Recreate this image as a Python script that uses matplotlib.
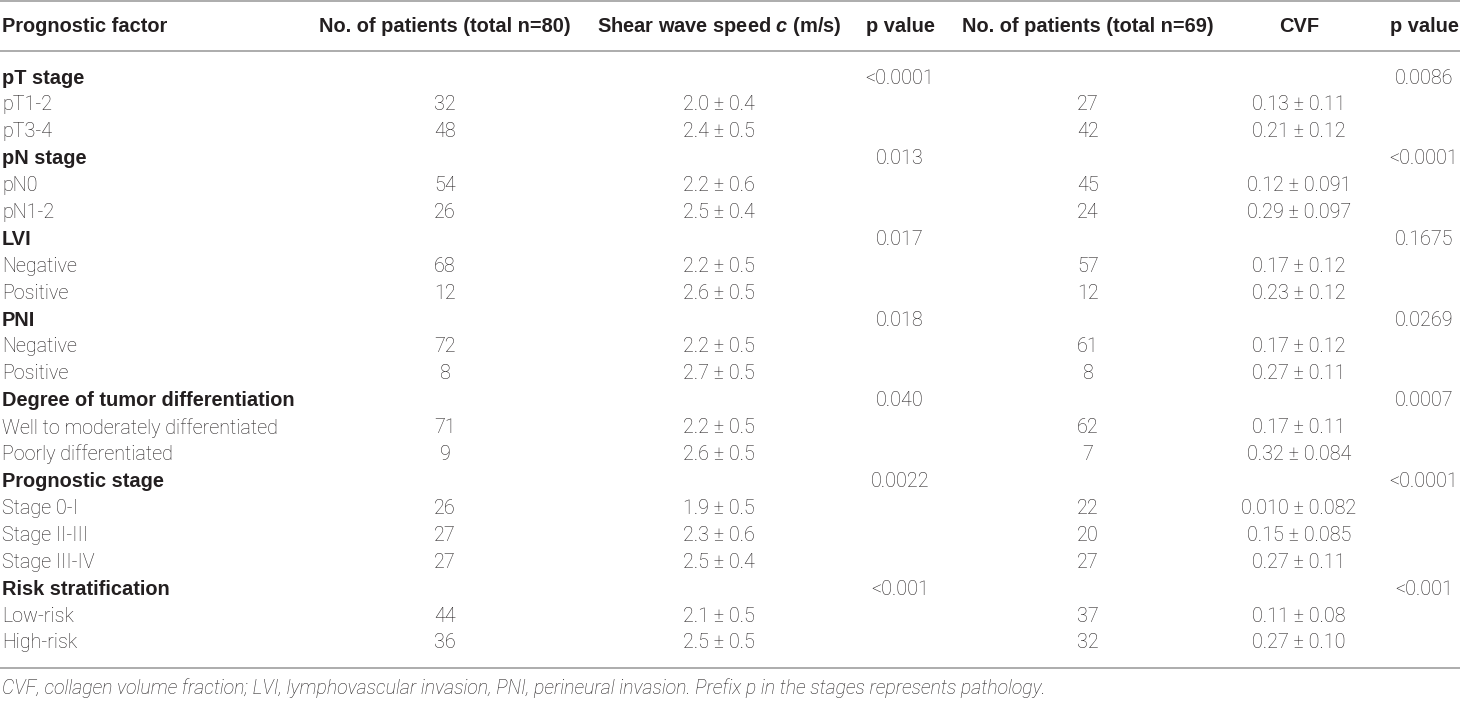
import matplotlib
matplotlib.use("Agg")
import matplotlib.pyplot as plt

plt.rcParams['mathtext.fontset'] = 'custom'
plt.rcParams['mathtext.it'] = 'Liberation Sans:italic:bold'
plt.rcParams['mathtext.rm'] = 'Liberation Sans:bold'

# ---------------- data ----------------
headers = ["Prognostic factor", "No. of patients (total n=80)",
           r"Shear wave speed $c$ (m/s)", "p value",
           "No. of patients (total n=69)", "CVF", "p value"]

groups = ["pT stage", "pN stage", "LVI", "PNI",
          "Degree of tumor differentiation", "Prognostic stage",
          "Risk stratification"]
group_p_swe = ["<0.0001", "0.013", "0.017", "0.018", "0.040", "0.0022", "<0.001"]
group_p_cvf = ["0.0086", "<0.0001", "0.1675", "0.0269", "0.0007", "<0.0001", "<0.001"]

sub_labels = [["pT1-2", "pT3-4"],
              ["pN0", "pN1-2"],
              ["Negative", "Positive"],
              ["Negative", "Positive"],
              ["Well to moderately differentiated", "Poorly differentiated"],
              ["Stage 0-I", "Stage II-III", "Stage III-IV"],
              ["Low-risk", "High-risk"]]
n_swe = [[32, 48], [54, 26], [68, 12], [72, 8], [71, 9], [26, 27, 27], [44, 36]]
swe = [["2.0 ± 0.4", "2.4 ± 0.5"],
       ["2.2 ± 0.6", "2.5 ± 0.4"],
       ["2.2 ± 0.5", "2.6 ± 0.5"],
       ["2.2 ± 0.5", "2.7 ± 0.5"],
       ["2.2 ± 0.5", "2.6 ± 0.5"],
       ["1.9 ± 0.5", "2.3 ± 0.6", "2.5 ± 0.4"],
       ["2.1 ± 0.5", "2.5 ± 0.5"]]
n_cvf = [[27, 42], [45, 24], [57, 12], [61, 8], [62, 7], [22, 20, 27], [37, 32]]
cvf = [["0.13 ± 0.11", "0.21 ± 0.12"],
       ["0.12 ± 0.091", "0.29 ± 0.097"],
       ["0.17 ± 0.12", "0.23 ± 0.12"],
       ["0.17 ± 0.12", "0.27 ± 0.11"],
       ["0.17 ± 0.11", "0.32 ± 0.084"],
       ["0.010 ± 0.082", "0.15 ± 0.085", "0.27 ± 0.11"],
       ["0.11 ± 0.08", "0.27 ± 0.10"]]

footnote = ("CVF, collagen volume fraction; LVI, lymphovascular invasion, PNI, "
            "perineural invasion. Prefix p in the stages represents pathology.")

# ---------------- layout ----------------
W, H = 1460, 707
col_x = [2, 445, 719, 900, 1088, 1299, 1424]
header_y = 27
row0_y = 78
row_dy = 26.9
lines_y = [1, 51, 668]
foot_y = 688
text_color = "#231f20"
line_color = "#a6a6a6"

body_font = dict(family="Roboto", weight="light")
bold_font = dict(family="Liberation Sans", weight="bold")
foot_font = dict(family="Roboto", weight="light", style="italic")

fig = plt.figure(figsize=(W / 100, H / 100), dpi=100)
ax = fig.add_axes([0, 0, 1, 1])
ax.set_xlim(0, W)
ax.set_ylim(H, 0)
ax.axis("off")
renderer = fig.canvas.get_renderer()


def fit_size(s, target, font):
    t = ax.text(0, 0, s, fontsize=10, **font)
    w = t.get_window_extent(renderer).width
    t.remove()
    return 10 * target / w


body_fs = fit_size("Well to moderately differentiated", 276, body_font)
bold_fs = (fit_size("Degree of tumor differentiation", 295, bold_font) +
           fit_size("No. of patients (total n=80)", 250, bold_font)) / 2
foot_fs = fit_size(footnote, 1045, foot_font)

for y in lines_y:
    ax.plot([0, W], [y, y], color=line_color, lw=1.3, solid_capstyle="butt")

# header
for i, h in enumerate(headers):
    ax.text(col_x[i], header_y, h, ha="left" if i == 0 else "center",
            va="center", fontsize=bold_fs, color=text_color, **bold_font)

row = 0
for g in range(len(groups)):
    y = row0_y + row * row_dy
    ax.text(col_x[0], y, groups[g], ha="left", va="center",
            fontsize=bold_fs, color=text_color, **bold_font)
    ax.text(col_x[3], y, group_p_swe[g], ha="center", va="center",
            fontsize=body_fs, color=text_color, **body_font)
    ax.text(col_x[6], y, group_p_cvf[g], ha="center", va="center",
            fontsize=body_fs, color=text_color, **body_font)
    row += 1
    for k in range(len(sub_labels[g])):
        y = row0_y + row * row_dy
        vals = [sub_labels[g][k], str(n_swe[g][k]), swe[g][k], None,
                str(n_cvf[g][k]), cvf[g][k], None]
        for c, v in enumerate(vals):
            if v is None:
                continue
            ax.text(col_x[c], y, v, ha="left" if c == 0 else "center",
                    va="center", fontsize=body_fs, color=text_color, **body_font)
        row += 1

ax.text(col_x[0], foot_y, footnote, ha="left", va="center",
        fontsize=foot_fs, color=text_color, **foot_font)

fig.savefig("out.png", dpi=100)
